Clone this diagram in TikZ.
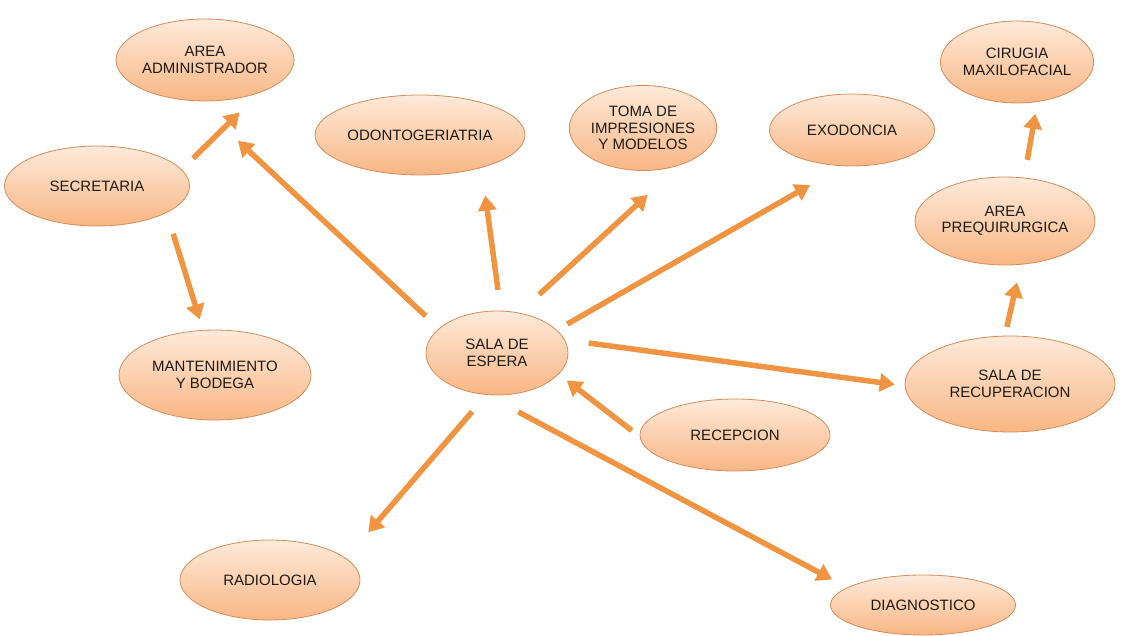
\documentclass[tikz,border=0pt]{standalone}
\usepackage{fontspec}
\setmainfont{Liberation Sans}
\usetikzlibrary{shapes.geometric,arrows.meta}
\definecolor{arrorange}{RGB}{240,148,66}
\definecolor{ovalline}{RGB}{212,140,90}
\definecolor{ovaltop}{RGB}{254,234,218}
\definecolor{ovalbot}{RGB}{248,182,132}
\definecolor{ovaltext}{RGB}{30,26,22}

\begin{document}
\begin{tikzpicture}
  [x=1pt, y=-1pt,
   area/.style={ellipse, draw=ovalline, thick, top color=ovaltop, bottom color=ovalbot,
     text=ovaltext, align=center, inner sep=0pt, font=\fontsize{15}{16.5}\selectfont},
   arr/.style={draw=arrorange, line width=5.5pt, -{Triangle[length=15pt,width=18pt]}}]

  \useasboundingbox (0,0) rectangle (1128,636);

  \node[area, minimum width=172pt, minimum height=82pt] (admin)  at (205,60)   {AREA\\ADMINISTRADOR};
  \node[area, minimum width=185pt, minimum height=80pt] (secre)  at (97,186)   {SECRETARIA};
  \node[area, minimum width=192pt, minimum height=90pt] (mant)   at (215,375)  {MANTENIMIENTO\\Y BODEGA};
  \node[area, minimum width=210pt, minimum height=80pt] (odonto) at (420,135)  {ODONTOGERIATRIA};
  \node[area, minimum width=145pt, minimum height=85pt] (toma)   at (643,128)  {TOMA DE\\IMPRESIONES\\Y MODELOS};
  \node[area, minimum width=165pt, minimum height=72pt] (exo)    at (852,130)  {EXODONCIA};
  \node[area, minimum width=148pt, minimum height=82pt] (ciru)   at (1017,62)  {CIRUGIA\\MAXILOFACIAL};
  \node[area, minimum width=180pt, minimum height=88pt] (preq)   at (1005,221) {AREA\\PREQUIRURGICA};
  \node[area, minimum width=142pt, minimum height=84pt] (sala)   at (497,353)  {SALA DE\\ESPERA};
  \node[area, minimum width=210pt, minimum height=96pt] (recup)  at (1010,384) {SALA DE\\RECUPERACION};
  \node[area, minimum width=190pt, minimum height=72pt] (recep)  at (735,435)  {RECEPCION};
  \node[area, minimum width=180pt, minimum height=80pt] (radio)  at (270,580)  {RADIOLOGIA};
  \node[area, minimum width=185pt, minimum height=60pt] (diag)   at (923,605)  {DIAGNOSTICO};

  \foreach \from/\a/\to/\b/\s/\e in {sala/157/admin/-103/18/58, secre/11/admin/-31/16/28,
      secre/-21/mant/105/22/11, sala/85/odonto/-28/21/28, sala/61/toma/-45/27/44,
      sala/21/exo/-104/12/38, sala/11/recup/181/24/10, recep/181/sala/-19/10/10,
      sala/-104/radio/16/22/34, sala/-104/diag/167/36/17, recup/96/preq/-70/9/18,
      preq/66/ciru/-63/18/12}
    \draw[arr, shorten <=\s pt, shorten >=\e pt] (\from.\a) -- (\to.\b);
\end{tikzpicture}
\end{document}
